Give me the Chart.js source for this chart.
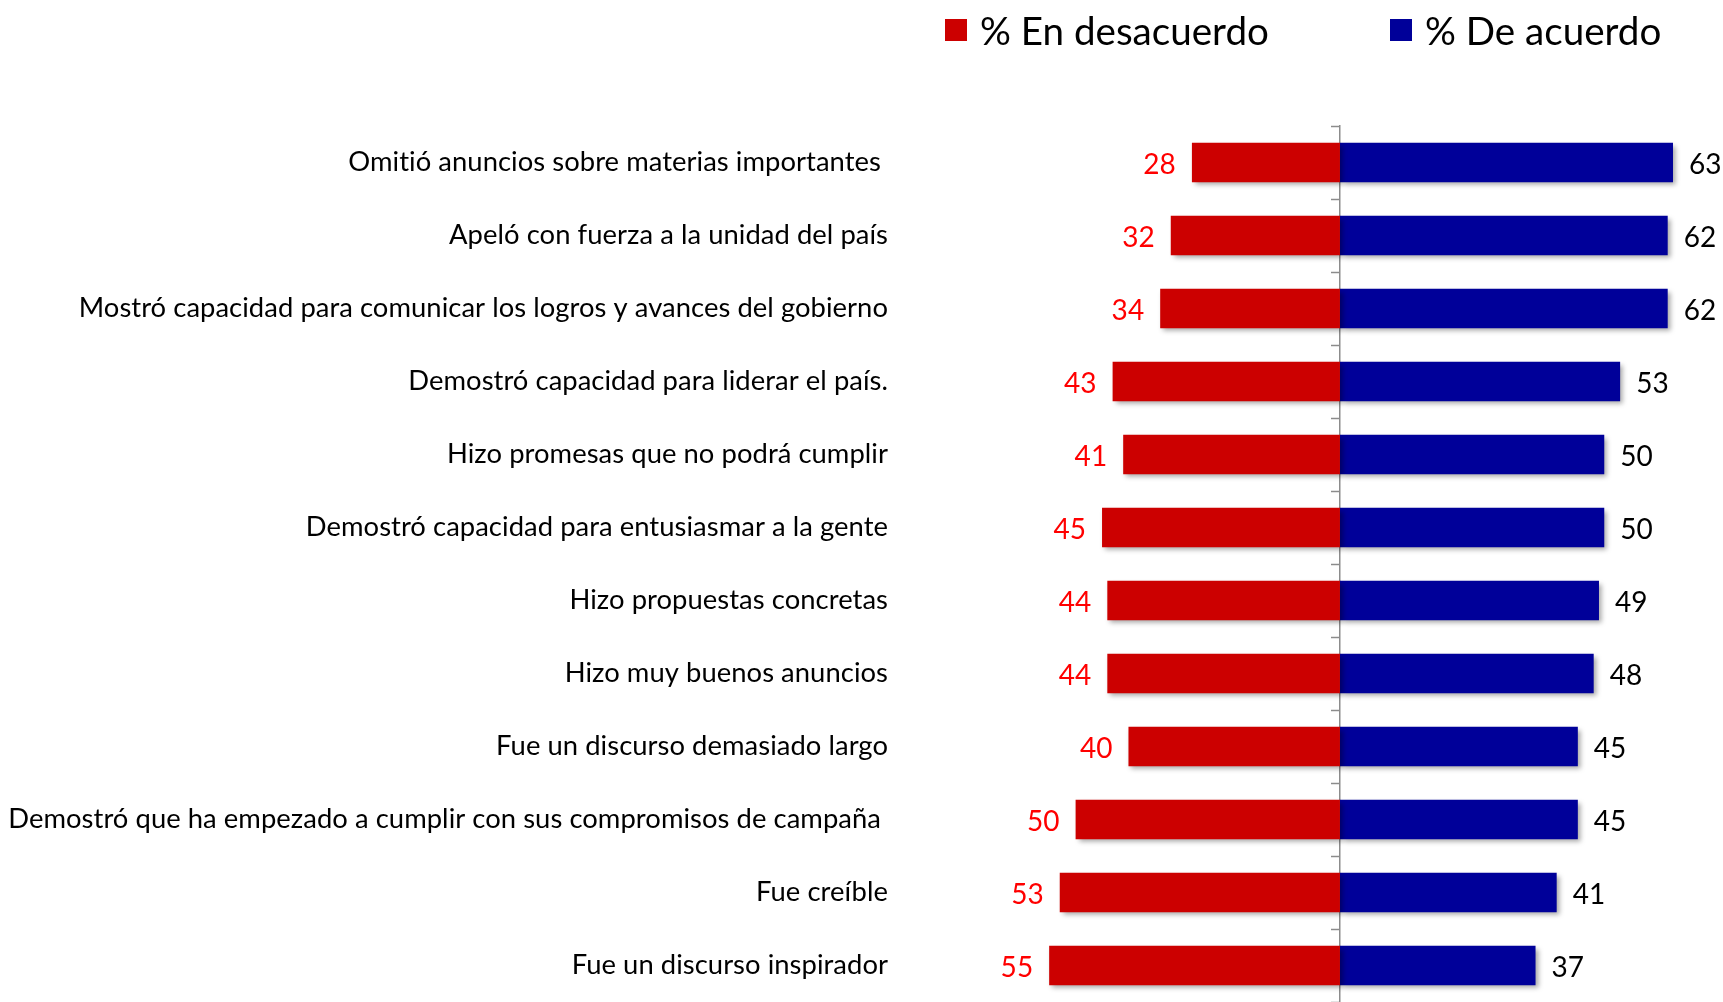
<!DOCTYPE html>
<html lang="es">
<head>
<meta charset="utf-8">
<title>Evaluación del discurso</title>
<script src="https://cdn.jsdelivr.net/npm/chart.js@4.4.1/dist/chart.umd.min.js"></script>
<style>
  html, body { margin: 0; padding: 0; background: #fff; }
  #wrap { position: relative; width: 1723px; height: 1002px; }
  .legend { position: absolute; top: 8px; height: 44px; display: flex; align-items: center;
            font-family: Lato, sans-serif; font-size: 38.6px; color: #000; white-space: nowrap;
            font-variant-ligatures: none; }
  .legend .box { display: inline-block; width: 22px; height: 22px; margin-right: 13px; }
</style>
</head>
<body>
<div id="wrap">
  <canvas id="chart" width="1723" height="1002"></canvas>
</div>
<script>
// categories, top to bottom
const labels = [
  'Omitió anuncios sobre materias importantes ',
  'Apeló con fuerza a la unidad del país',
  'Mostró capacidad para comunicar los logros y avances del gobierno',
  'Demostró capacidad para liderar el país.',
  'Hizo promesas que no podrá cumplir',
  'Demostró capacidad para entusiasmar a la gente',
  'Hizo propuestas concretas',
  'Hizo muy buenos anuncios',
  'Fue un discurso demasiado largo',
  'Demostró que ha empezado a cumplir con sus compromisos de campaña ',
  'Fue creíble',
  'Fue un discurso inspirador'
];
const desacuerdo = [28, 32, 34, 43, 41, 45, 44, 44, 40, 50, 53, 55];
const acuerdo = [63, 62, 62, 53, 50, 50, 49, 48, 45, 45, 41, 37];

const seriesNames = ['% En desacuerdo', '% De acuerdo'];
const seriesColors = ['#cc0000', '#000099'];
const valueColors = ['#ff0000', '#000000'];

// legend sits above the plot, written as html
const legendLeft = [945, 1390];
seriesNames.forEach((name, i) => {
  const item = document.createElement('div');
  item.className = 'legend';
  item.style.left = legendLeft[i] + 'px';
  const box = document.createElement('span');
  box.className = 'box';
  box.style.background = seriesColors[i];
  item.appendChild(box);
  item.appendChild(document.createTextNode(name));
  document.getElementById('wrap').appendChild(item);
});

// tiny letter spacing keeps Lato from joining "ti" into a ligature
const noLigatures = {
  id: 'noLigatures',
  beforeDraw(chart) {
    if ('letterSpacing' in chart.ctx) chart.ctx.letterSpacing = '0.05px';
  }
};

// soft drop shadow under the bars
const barShadow = {
  id: 'barShadow',
  beforeDatasetsDraw(chart) {
    const c = chart.ctx;
    c.save();
    c.shadowColor = 'rgba(0,0,0,0.35)';
    c.shadowBlur = 5;
    c.shadowOffsetX = 3;
    c.shadowOffsetY = 3;
  },
  afterDatasetsDraw(chart) {
    chart.ctx.restore();
  }
};

// numbers at the end of every bar
const valueLabels = {
  id: 'valueLabels',
  afterDraw(chart) {
    const c = chart.ctx;
    c.save();
    c.font = '28px Lato';
    c.textBaseline = 'middle';
    chart.data.datasets.forEach((ds, i) => {
      chart.getDatasetMeta(i).data.forEach((bar, j) => {
        const v = ds.data[j];
        c.fillStyle = valueColors[i];
        c.textAlign = v < 0 ? 'right' : 'left';
        c.fillText(Math.abs(v), bar.x + (v < 0 ? -16 : 16), bar.y + 2);
      });
    });
    c.restore();
  }
};

new Chart(document.getElementById('chart'), {
  type: 'bar',
  data: {
    labels: labels,
    datasets: [
      { label: seriesNames[0], data: desacuerdo.map(v => -v), backgroundColor: seriesColors[0] },
      { label: seriesNames[1], data: acuerdo, backgroundColor: seriesColors[1] }
    ]
  },
  options: {
    indexAxis: 'y',
    responsive: false,
    animation: false,
    barPercentage: 0.54,
    categoryPercentage: 1,
    layout: { padding: { top: 126, right: 13, bottom: 0, left: 0 } },
    plugins: { legend: { display: false }, tooltip: { enabled: false } },
    scales: {
      x: { display: false, stacked: true, min: -80, max: 70 },
      y: {
        stacked: true,
        grid: { display: false, drawTicks: false },
        border: { display: false },
        ticks: { color: '#000', font: { family: 'Lato', size: 27.4 }, padding: 29, autoSkip: false },
        afterFit(s) { s.width = 917; s.paddingTop = 0; s.paddingBottom = 0; }
      },
      // the grey centre line with its small ticks
      y2: {
        type: 'category',
        axis: 'y',
        position: { x: 0 },
        offset: true,
        z: 1,
        grid: { offset: true, drawOnChartArea: false, tickLength: 8, color: '#8c8c8c', tickWidth: 1.5 },
        border: { color: '#8c8c8c', width: 1.5 },
        ticks: { display: false }
      }
    }
  },
  plugins: [noLigatures, barShadow, valueLabels]
});
</script>
</body>
</html>
